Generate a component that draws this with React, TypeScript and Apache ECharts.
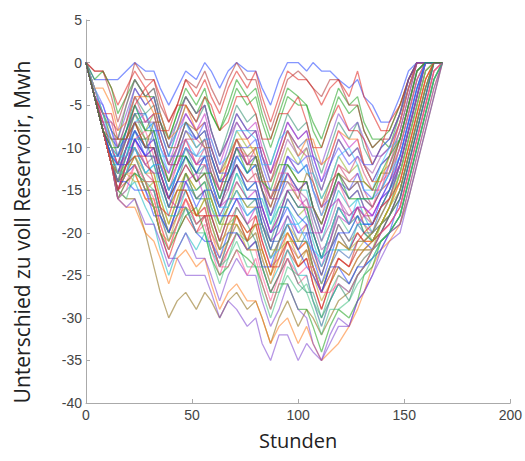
import React, { useEffect, useRef } from "react";
import * as echarts from "echarts";

// Stunden (hour marks shared by every simulated run)
const hours = [0, 4, 8, 12, 15, 19, 23, 28, 32, 35, 39, 43, 47, 52, 56, 59, 63, 67, 71, 76, 80, 83, 87, 91, 95, 100, 104, 107, 111, 115, 119, 124, 128, 131, 135, 139, 143, 148, 152, 156, 160, 164, 168];

const xTicks = [0, 50, 100, 150, 200];
const yTicks = [5, 0, -5, -10, -15, -20, -25, -30, -35, -40];

// Unterschied zu voll Reservoir (MWh) per run
const run01 = [0, -2, -2, -2, -2, -1, 0, -1, -1, -3, -5, -3, -1, -2, 0, -1, -3, -1, 0, -1, -1, -3, -5, -2, 0, 0, -1, 0, -1, -1, -2, -3, -2, -4, -5, -7, -7, -4, -1, 0, 0, 0, 0];
const run02 = [0, -1, -1, -3, -5, -3, -1, -3, -2, -4, -7, -5, -2, -4, -2, -4, -6, -3, -1, -3, -1, -4, -7, -4, -1, -2, -2, -3, -5, -3, -2, -4, -1, -4, -6, -8, -8, -5, -2, 0, 0, 0, 0];
const run03 = [0, -4, -6, -8, -9, -5, -2, -4, -3, -6, -9, -6, -3, -5, -3, -6, -8, -5, -2, -4, -3, -6, -9, -6, -3, -4, -5, -8, -10, -7, -4, -6, -5, -8, -10, -9, -10, -6, -2, 0, 0, 0, 0];
const run04 = [0, -4, -8, -10, -12, -8, -5, -7, -6, -9, -12, -9, -6, -8, -6, -9, -12, -9, -6, -8, -7, -10, -13, -10, -7, -9, -8, -11, -14, -11, -8, -10, -9, -12, -14, -12, -11, -7, -3, 0, 0, 0, 0];
const run05 = [0, -4, -8, -12, -14, -11, -8, -10, -10, -13, -16, -13, -10, -12, -11, -14, -17, -14, -11, -13, -12, -15, -19, -16, -13, -15, -15, -18, -21, -18, -15, -17, -16, -18, -20, -18, -16, -12, -8, -4, 0, 0, 0];
const run06 = [0, -4, -8, -12, -15, -16, -16, -20, -24, -27, -30, -28, -27, -29, -27, -28, -30, -28, -27, -29, -28, -30, -33, -30, -28, -31, -29, -30, -32, -30, -28, -27, -25, -24, -22, -21, -20, -19, -16, -12, -8, -4, 0];
const run07 = [0, -4, -8, -12, -15, -13, -12, -15, -17, -20, -23, -23, -25, -25, -25, -27, -30, -28, -29, -31, -30, -33, -35, -32, -32, -35, -33, -34, -35, -33, -31, -31, -28, -27, -25, -23, -21, -20, -16, -12, -8, -4, 0];
const run08 = [0, -4, -8, -12, -16, -17, -17, -20, -21, -23, -26, -23, -22, -24, -23, -26, -29, -27, -26, -28, -28, -30, -33, -31, -30, -33, -31, -33, -35, -34, -33, -31, -29, -27, -24, -22, -21, -19, -15, -11, -7, -3, 0];
const run09 = [0, -4, -7, -10, -11, -8, -4, -6, -5, -8, -11, -8, -5, -7, -5, -8, -11, -8, -5, -7, -6, -9, -12, -9, -6, -8, -7, -10, -13, -10, -7, -9, -7, -10, -12, -10, -9, -6, -3, 0, 0, 0, 0];
const run10 = [0, -4, -8, -11, -13, -10, -7, -10, -9, -12, -15, -12, -9, -12, -10, -13, -16, -13, -10, -12, -11, -14, -17, -14, -11, -13, -12, -15, -18, -15, -12, -14, -13, -15, -17, -15, -13, -9, -5, -1, 0, 0, 0];
const run11 = [0, -4, -8, -12, -14, -12, -10, -12, -13, -16, -19, -16, -13, -15, -14, -17, -20, -17, -14, -16, -16, -19, -22, -19, -16, -18, -17, -20, -23, -20, -17, -19, -17, -19, -21, -19, -17, -13, -9, -5, -1, 0, 0];
const run12 = [0, -3, -6, -9, -10, -7, -3, -5, -4, -7, -10, -7, -4, -6, -5, -8, -11, -9, -6, -8, -8, -11, -14, -11, -8, -10, -9, -12, -15, -12, -9, -11, -10, -12, -14, -12, -11, -8, -4, 0, 0, 0, 0];
const run13 = [0, -4, -8, -12, -15, -13, -11, -14, -14, -17, -20, -18, -16, -19, -18, -21, -24, -22, -20, -22, -21, -24, -27, -25, -22, -24, -23, -26, -29, -26, -24, -25, -23, -22, -21, -20, -19, -17, -13, -9, -5, -1, 0];
const run14 = [0, -4, -8, -11, -12, -9, -6, -9, -9, -12, -15, -13, -10, -13, -12, -15, -18, -16, -13, -15, -14, -17, -20, -17, -15, -17, -17, -20, -23, -21, -18, -20, -18, -20, -21, -19, -17, -13, -9, -5, -1, 0, 0];
const run15 = [0, -4, -7, -10, -12, -11, -10, -12, -11, -14, -16, -14, -12, -14, -12, -14, -17, -15, -12, -14, -14, -17, -20, -18, -15, -17, -16, -18, -21, -19, -16, -18, -17, -19, -20, -18, -16, -12, -8, -4, 0, 0, 0];
const run16 = [0, -4, -8, -12, -14, -12, -9, -11, -11, -14, -17, -15, -13, -16, -15, -18, -21, -20, -18, -20, -19, -22, -25, -23, -21, -24, -22, -24, -27, -25, -23, -24, -22, -21, -20, -19, -17, -14, -10, -6, -2, 0, 0];
const run17 = [0, -3, -5, -8, -10, -9, -6, -8, -7, -10, -12, -10, -7, -9, -8, -11, -14, -13, -10, -12, -11, -14, -16, -14, -11, -13, -12, -15, -17, -16, -14, -15, -13, -15, -16, -14, -12, -9, -5, -1, 0, 0, 0];
const run18 = [0, -4, -8, -12, -16, -14, -12, -15, -15, -18, -21, -19, -17, -20, -19, -22, -25, -22, -20, -22, -22, -25, -28, -25, -23, -26, -25, -28, -31, -28, -25, -26, -24, -23, -22, -21, -20, -18, -14, -10, -6, -2, 0];
const run19 = [0, -4, -8, -10, -11, -8, -5, -8, -7, -10, -13, -11, -9, -11, -10, -13, -16, -14, -11, -13, -12, -15, -18, -15, -12, -13, -12, -15, -18, -16, -13, -15, -14, -16, -17, -15, -13, -10, -6, -2, 0, 0, 0];
const run20 = [0, -4, -8, -12, -13, -10, -8, -11, -10, -13, -16, -13, -11, -13, -11, -14, -17, -14, -12, -15, -14, -17, -20, -19, -17, -20, -20, -23, -26, -23, -20, -22, -20, -21, -22, -20, -18, -15, -11, -7, -3, 0, 0];
const run21 = [0, -4, -8, -12, -15, -14, -13, -16, -17, -20, -23, -20, -18, -20, -18, -21, -24, -21, -18, -20, -19, -22, -25, -22, -20, -22, -21, -24, -27, -24, -21, -22, -20, -21, -21, -20, -18, -15, -11, -7, -3, 0, 0];
const run22 = [0, -2, -1, -3, -6, -4, -2, -4, -4, -7, -9, -6, -4, -6, -4, -6, -8, -6, -3, -5, -4, -7, -10, -7, -4, -5, -5, -7, -9, -6, -3, -5, -4, -7, -9, -9, -8, -5, -2, 0, 0, 0, 0];
const run23 = [0, -4, -8, -12, -13, -11, -9, -11, -10, -12, -14, -12, -10, -12, -11, -14, -17, -16, -14, -16, -15, -18, -21, -20, -18, -20, -19, -22, -24, -21, -18, -19, -17, -18, -18, -16, -15, -12, -8, -4, 0, 0, 0];
const run24 = [0, -4, -8, -12, -16, -15, -14, -17, -19, -22, -25, -22, -20, -22, -20, -22, -24, -21, -19, -21, -20, -23, -26, -24, -22, -25, -25, -28, -31, -28, -26, -27, -25, -24, -23, -21, -20, -18, -14, -10, -6, -2, 0];
const run25 = [0, -4, -8, -11, -13, -10, -7, -9, -8, -11, -14, -11, -8, -10, -9, -12, -15, -12, -9, -11, -10, -13, -16, -14, -12, -14, -14, -17, -20, -17, -14, -16, -15, -17, -19, -17, -15, -11, -7, -3, 0, 0, 0];
const run26 = [0, -4, -7, -9, -9, -6, -3, -5, -4, -7, -10, -8, -6, -8, -7, -10, -13, -10, -7, -9, -8, -11, -13, -10, -7, -9, -8, -11, -12, -9, -6, -8, -7, -9, -11, -11, -10, -7, -3, 0, 0, 0, 0];
const run27 = [0, -4, -8, -12, -14, -13, -13, -16, -16, -19, -22, -19, -16, -18, -17, -20, -23, -21, -19, -21, -20, -23, -26, -23, -20, -22, -21, -23, -25, -22, -19, -21, -20, -21, -21, -19, -17, -14, -10, -6, -2, 0, 0];
const run28 = [0, -4, -8, -11, -14, -11, -8, -10, -10, -13, -16, -14, -11, -13, -13, -16, -19, -17, -15, -17, -16, -19, -21, -18, -15, -17, -17, -20, -23, -20, -17, -19, -18, -20, -21, -19, -18, -15, -11, -7, -3, 0, 0];
const run29 = [0, -4, -8, -12, -15, -12, -10, -13, -14, -17, -20, -17, -15, -18, -17, -20, -22, -19, -17, -19, -18, -21, -24, -23, -21, -23, -22, -25, -27, -25, -23, -24, -22, -22, -22, -20, -19, -17, -13, -9, -5, -1, 0];
const run30 = [0, -3, -6, -9, -11, -9, -6, -8, -6, -9, -12, -10, -7, -9, -8, -11, -14, -11, -8, -10, -10, -13, -16, -13, -10, -12, -10, -13, -16, -14, -11, -13, -12, -14, -15, -13, -12, -9, -5, -1, 0, 0, 0];
const run31 = [0, -4, -8, -12, -15, -13, -12, -15, -15, -18, -20, -17, -14, -16, -15, -18, -21, -18, -16, -18, -17, -20, -23, -21, -18, -21, -21, -24, -27, -24, -22, -23, -21, -21, -20, -19, -18, -16, -12, -8, -4, 0, 0];
const run32 = [0, -4, -8, -10, -12, -9, -7, -10, -10, -13, -16, -14, -12, -14, -13, -15, -17, -14, -12, -14, -13, -15, -18, -15, -13, -15, -14, -17, -19, -16, -13, -15, -14, -16, -17, -15, -14, -10, -6, -2, 0, 0, 0];
const run33 = [0, -4, -8, -12, -14, -12, -11, -14, -15, -18, -21, -19, -17, -19, -18, -21, -24, -23, -21, -24, -24, -27, -30, -27, -25, -27, -26, -28, -30, -27, -25, -26, -24, -23, -22, -21, -20, -18, -14, -10, -6, -2, 0];
const run34 = [0, -4, -6, -7, -8, -5, -2, -4, -3, -6, -9, -7, -4, -6, -5, -8, -11, -9, -7, -9, -8, -11, -14, -12, -9, -11, -10, -13, -15, -12, -9, -11, -10, -12, -13, -11, -10, -7, -3, 0, 0, 0, 0];
const run35 = [0, -4, -8, -12, -15, -13, -11, -13, -13, -16, -19, -16, -13, -15, -14, -16, -19, -17, -15, -17, -17, -20, -23, -21, -20, -23, -22, -25, -28, -26, -24, -25, -23, -22, -21, -19, -18, -16, -12, -8, -4, 0, 0];
const run36 = [0, -4, -8, -12, -13, -10, -8, -10, -9, -11, -13, -10, -7, -9, -8, -11, -14, -13, -11, -13, -12, -15, -18, -16, -13, -15, -14, -17, -20, -17, -14, -16, -15, -17, -18, -16, -15, -11, -7, -3, 0, 0, 0];
const run37 = [0, -3, -7, -10, -12, -12, -9, -8, -11, -12, -13, -10, -9, -12, -12, -13, -15, -12, -10, -11, -14, -14, -16, -13, -13, -16, -17, -17, -19, -16, -14, -17, -19, -18, -17, -14, -13, -10, -6, -2, 0, 0, 0];
const run38 = [0, -4, -8, -11, -11, -11, -7, -6, -8, -11, -11, -8, -7, -10, -9, -9, -12, -11, -8, -8, -9, -12, -12, -9, -8, -11, -13, -13, -16, -14, -11, -10, -12, -15, -15, -12, -10, -9, -5, -1, 0, 0, 0];
const run39 = [0, -4, -8, -12, -14, -14, -15, -15, -18, -18, -20, -17, -17, -20, -21, -21, -23, -20, -20, -22, -21, -24, -24, -21, -19, -22, -24, -25, -27, -24, -24, -26, -24, -24, -23, -22, -20, -16, -12, -8, -4, 0, 0];
const run40 = [0, -4, -6, -6, -9, -9, -5, -3, -5, -8, -8, -5, -5, -7, -4, -5, -8, -7, -4, -4, -6, -9, -9, -6, -6, -4, -7, -10, -10, -7, -5, -8, -8, -9, -12, -10, -7, -5, -2, 0, 0, 0, 0];
const run41 = [0, -4, -8, -12, -16, -14, -13, -14, -17, -20, -22, -20, -18, -17, -20, -23, -25, -24, -22, -23, -24, -26, -29, -26, -26, -29, -29, -31, -34, -31, -29, -30, -28, -25, -24, -21, -20, -18, -14, -10, -6, -2, 0];
const run42 = [0, -4, -8, -12, -15, -12, -9, -12, -13, -13, -16, -17, -14, -13, -16, -18, -18, -16, -16, -19, -17, -17, -20, -18, -15, -15, -18, -20, -20, -17, -16, -19, -17, -17, -18, -16, -14, -12, -8, -4, 0, 0, 0];
const run43 = [0, -4, -8, -12, -12, -10, -10, -13, -12, -15, -18, -18, -15, -15, -14, -17, -19, -16, -13, -16, -16, -16, -19, -17, -17, -19, -18, -21, -24, -22, -22, -22, -19, -19, -19, -17, -15, -13, -9, -5, -1, 0, 0];
const run44 = [0, -4, -8, -9, -9, -9, -7, -10, -7, -7, -10, -10, -7, -8, -10, -10, -13, -11, -9, -12, -12, -15, -17, -14, -14, -16, -13, -14, -17, -14, -13, -14, -14, -14, -15, -13, -13, -9, -5, -1, 0, 0, 0];
const run45 = [0, -4, -8, -12, -16, -17, -16, -19, -19, -21, -24, -22, -20, -23, -23, -25, -28, -25, -23, -25, -25, -28, -31, -29, -26, -29, -30, -33, -35, -32, -30, -31, -28, -27, -25, -22, -20, -19, -15, -11, -7, -3, 0];
const run46 = [0, -3, -3, -5, -8, -7, -4, -4, -6, -6, -9, -8, -5, -8, -7, -10, -13, -12, -9, -9, -11, -14, -14, -11, -8, -11, -9, -9, -12, -11, -8, -9, -9, -12, -14, -14, -11, -7, -3, 0, 0, 0, 0];
const run47 = [0, -4, -8, -12, -14, -13, -9, -9, -12, -14, -17, -17, -13, -16, -16, -19, -22, -21, -17, -19, -21, -24, -27, -25, -23, -26, -27, -27, -30, -28, -26, -28, -25, -24, -22, -20, -18, -16, -12, -8, -4, 0, 0];
const run48 = [0, -4, -7, -7, -10, -7, -4, -7, -6, -9, -12, -12, -9, -9, -10, -13, -15, -12, -9, -12, -10, -10, -13, -11, -8, -10, -11, -14, -17, -15, -12, -13, -11, -13, -15, -15, -12, -8, -4, 0, 0, 0, 0];
const run49 = [0, -4, -8, -12, -13, -12, -12, -15, -14, -14, -17, -15, -15, -18, -16, -16, -19, -19, -18, -21, -19, -19, -22, -22, -21, -21, -21, -24, -26, -24, -21, -22, -22, -22, -22, -19, -17, -15, -11, -7, -3, 0, 0];
const run50 = [0, -4, -8, -11, -11, -8, -6, -6, -9, -12, -15, -13, -11, -13, -11, -11, -14, -14, -12, -15, -15, -18, -21, -21, -19, -22, -20, -20, -23, -22, -19, -21, -19, -20, -20, -17, -15, -12, -8, -4, 0, 0, 0];
const run51 = [0, -1, -1, -4, -7, -4, 0, -2, -2, -5, -7, -5, -2, -3, -1, -3, -5, -2, 0, -2, -2, -5, -8, -5, -2, -1, -2, -3, -4, -2, -2, -5, -5, -8, -10, -9, -9, -6, -2, 0, 0, 0, 0];
const run52 = [0, -4, -8, -12, -15, -16, -13, -14, -17, -17, -20, -20, -17, -20, -20, -23, -26, -23, -20, -21, -24, -24, -27, -27, -24, -25, -27, -29, -32, -29, -29, -28, -26, -25, -23, -21, -20, -18, -14, -10, -6, -2, 0];
const run53 = [0, -4, -8, -12, -14, -10, -7, -7, -7, -9, -12, -12, -10, -11, -9, -12, -15, -15, -11, -11, -11, -13, -16, -16, -14, -15, -16, -19, -22, -21, -17, -18, -17, -18, -19, -17, -16, -12, -8, -4, 0, 0, 0];
const run54 = [0, -4, -8, -12, -13, -13, -14, -14, -17, -20, -21, -18, -17, -18, -16, -19, -22, -19, -19, -22, -22, -22, -25, -21, -19, -21, -19, -22, -25, -22, -20, -22, -21, -21, -20, -18, -16, -13, -9, -5, -1, 0, 0];
const run55 = [0, -4, -5, -8, -11, -9, -9, -11, -8, -8, -11, -11, -8, -9, -7, -10, -13, -13, -10, -10, -9, -12, -15, -15, -11, -12, -11, -11, -14, -12, -10, -12, -11, -12, -12, -10, -9, -6, -2, 0, 0, 0, 0];
const run56 = [0, -4, -8, -12, -16, -15, -12, -14, -16, -19, -22, -19, -16, -19, -18, -21, -24, -24, -22, -25, -23, -26, -29, -26, -23, -25, -24, -24, -27, -27, -26, -27, -25, -24, -22, -20, -19, -17, -13, -9, -5, -1, 0];
const run57 = [0, -3, -6, -10, -13, -13, -10, -13, -12, -12, -15, -13, -10, -11, -11, -14, -17, -17, -15, -18, -17, -20, -23, -22, -19, -19, -21, -22, -23, -20, -17, -19, -16, -16, -16, -15, -13, -11, -7, -3, 0, 0, 0];
const run58 = [0, -4, -8, -11, -12, -12, -9, -11, -11, -14, -17, -14, -14, -17, -15, -15, -18, -18, -16, -16, -16, -19, -22, -19, -16, -18, -19, -22, -25, -22, -20, -20, -18, -19, -19, -16, -14, -11, -7, -3, 0, 0, 0];
const run59 = [0, -4, -8, -12, -15, -12, -11, -11, -14, -17, -18, -15, -15, -18, -18, -18, -21, -18, -18, -21, -18, -21, -24, -24, -21, -24, -23, -26, -29, -26, -23, -24, -21, -20, -19, -17, -16, -14, -10, -6, -2, 0, 0];
const run60 = [0, -4, -8, -10, -10, -8, -5, -8, -8, -11, -14, -11, -11, -14, -13, -13, -16, -13, -10, -13, -11, -14, -15, -12, -12, -14, -14, -17, -19, -16, -13, -16, -16, -16, -16, -13, -11, -9, -5, -1, 0, 0, 0];

const runs = [run01, run02, run03, run04, run05, run06, run07, run08, run09, run10, run11, run12, run13, run14, run15, run16, run17, run18, run19, run20, run21, run22, run23, run24, run25, run26, run27, run28, run29, run30, run31, run32, run33, run34, run35, run36, run37, run38, run39, run40, run41, run42, run43, run44, run45, run46, run47, run48, run49, run50, run51, run52, run53, run54, run55, run56, run57, run58, run59, run60];

const palette = ["#1f3fff", "#e0201c", "#19a019", "#c020c0", "#10b8c0", "#8a6a10", "#7a40d0", "#ff7a1a", "#2a8a6a", "#d04070", "#90b020", "#3060b0", "#b03030", "#40c080", "#a050a0", "#c0a020", "#5050ff", "#ff5090", "#30c0ff"];

export default function App() {
  const ref = useRef<HTMLDivElement>(null);
  useEffect(() => {
    document.body.style.margin = "0";
    if (!ref.current) return;
    const chart = echarts.init(ref.current, null, { renderer: "svg" });
    const series = runs.map((r, i) => ({
      type: "line",
      name: "Lauf " + (i + 1),
      data: r.map((v, j) => [hours[j], v]),
      showSymbol: false,
      symbol: "none",
      lineStyle: { width: 1.3, color: palette[i % palette.length], opacity: 0.55 },
      silent: true,
    }));
    chart.setOption({
      animation: false,
      backgroundColor: "#ffffff",
      grid: { left: 86, right: 14, top: 20, bottom: 58, containLabel: false },
      xAxis: {
        type: "value",
        min: xTicks[0],
        max: xTicks[xTicks.length - 1],
        interval: 50,
        name: "Stunden",
        nameLocation: "middle",
        nameGap: 27,
        nameTextStyle: { fontFamily: "Open Sans", fontSize: 20, color: "#222" },
        axisLine: { onZero: false, lineStyle: { color: "#aaaaaa", width: 1 } },
        axisTick: { inside: true, length: 4, lineStyle: { color: "#aaaaaa" } },
        axisLabel: { fontFamily: "Liberation Sans", fontSize: 14, color: "#444", margin: 5 },
        splitLine: { show: false },
      },
      yAxis: {
        type: "value",
        min: yTicks[yTicks.length - 1],
        max: yTicks[0],
        interval: 5,
        axisLine: { show: true, onZero: false, lineStyle: { color: "#aaaaaa", width: 1 } },
        axisTick: { show: true, inside: true, length: 4, lineStyle: { color: "#aaaaaa" } },
        axisLabel: { fontFamily: "Liberation Sans", fontSize: 14, color: "#444", margin: 4 },
        splitLine: { show: false },
      },
      graphic: [
        {
          type: "text",
          x: 22,
          y: 232,
          rotation: Math.PI / 2,
          style: {
            text: "Unterschied zu voll Reservoir, Mwh",
            fontFamily: "Open Sans",
            fontSize: 21,
            fill: "#222",
            textAlign: "center",
            textVerticalAlign: "middle",
          },
        },
      ],
      series,
    });
    return () => chart.dispose();
  }, []);
  return <div ref={ref} style={{ width: 525, height: 461 }} />;
}
